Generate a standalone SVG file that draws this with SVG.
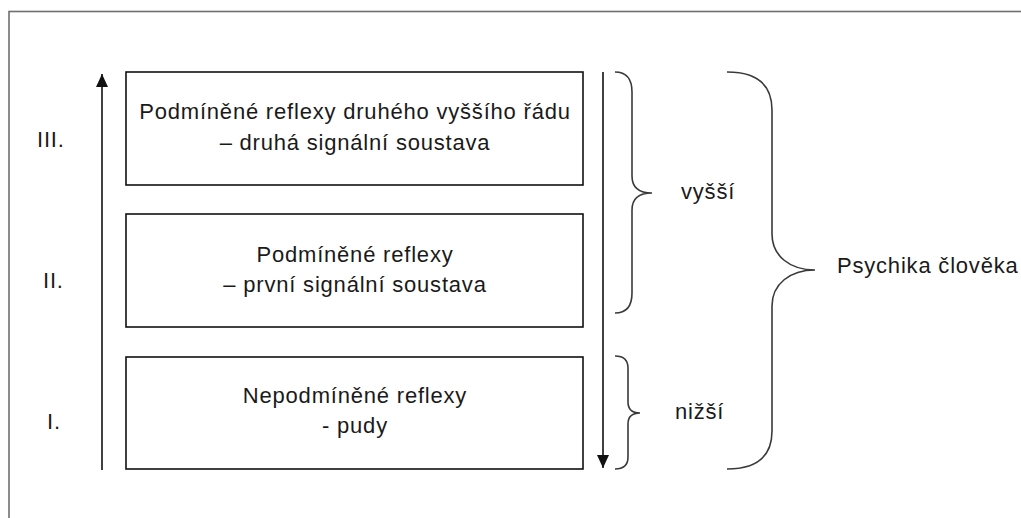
<svg xmlns="http://www.w3.org/2000/svg" width="1021" height="518" viewBox="0 0 1021 518">
<defs>
<style>
text{font-family:"Liberation Sans",Arial,sans-serif;font-size:22px;fill:#1a1a1a;letter-spacing:0.8px}
.c{text-anchor:middle}
.box{fill:#fff;stroke:#111;stroke-width:1.6}
.br{fill:none;stroke:#3a3a3a;stroke-width:1.6}
.ar{stroke:#111;stroke-width:1.6;fill:none}
</style>
<marker id="ah" viewBox="0 0 13 12" refX="13" refY="6" markerWidth="13" markerHeight="12" markerUnits="userSpaceOnUse" orient="auto">
<path d="M0,0 L13,6 L0,12 Z" fill="#111"/>
</marker>
</defs>
<rect width="1021" height="518" fill="#fff"/>
<rect x="9" y="11.5" width="1100" height="600" fill="none" stroke="#6f6f6f" stroke-width="1.6"/>
<g id="levels">
<text x="37" y="147">III.</text>
<text x="43" y="288">II.</text>
<text x="47" y="429">I.</text>
</g>
<g id="node-III">
<rect class="box" x="126" y="72" width="457" height="113"/>
<text class="c" x="355" y="119">Podmíněné reflexy druhého vyššího řádu</text>
<text class="c" x="355" y="150">– druhá signální soustava</text>
</g>
<g id="node-II">
<rect class="box" x="126" y="214" width="457" height="113"/>
<text class="c" x="355" y="262">Podmíněné reflexy</text>
<text class="c" x="355" y="292">– první signální soustava</text>
</g>
<g id="node-I">
<rect class="box" x="126" y="357" width="457" height="112"/>
<text class="c" x="355" y="403">Nepodmíněné reflexy</text>
<text class="c" x="355" y="433">- pudy</text>
</g>
<g id="connectors">
<line class="ar" x1="102" y1="470" x2="102" y2="74" marker-end="url(#ah)"/>
<line class="ar" x1="603" y1="72" x2="603" y2="468" marker-end="url(#ah)"/>
<path class="br" d="M615,72 Q632,72 632,92 L632,176 Q632,193 652,193 Q632,193 632,210 L632,293 Q632,313 615,313"/>
<path class="br" d="M615,356 Q628,356 628,368 L628,402 Q628,413 640,413 Q628,413 628,424 L628,457 Q628,469 615,469"/>
<path class="br" d="M727,72 C760,72 772,88 772,110 L772,234 C772,256 790,270 815,270 C790,270 772,284 772,306 L772,431 C772,453 760,469 727,469"/>
</g>
<g id="node-vyssi"><text x="681" y="199">vyšší</text></g>
<g id="node-nizsi"><text x="675" y="419">nižší</text></g>
<g id="node-psychika"><text x="837" y="273">Psychika člověka</text></g>
</svg>
